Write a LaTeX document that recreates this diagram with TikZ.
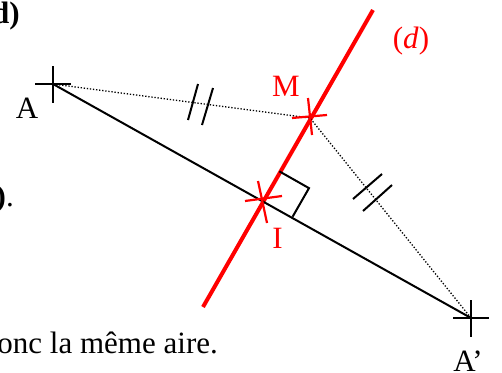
\documentclass[tikz,border=0pt]{standalone}
\usepackage{fontspec}
\setmainfont{Liberation Serif}
\usetikzlibrary{calc}
\begin{document}
\begin{tikzpicture}[x=1pt,y=-1pt,
  lbl/.style={font=\fontsize{31}{34}\selectfont,inner sep=0pt,anchor=base},
  redlbl/.style={lbl,text=red},
  seg/.style={line width=2pt,black},
  dotline/.style={line width=1.3pt,dash pattern=on 1.3pt off 1.8pt},
  bcross/.style={line width=2.2pt,black},
  rcross/.style={line width=2.2pt,red},
  redline/.style={line width=4pt,red},
  tick/.style={line width=2pt,black}]
\useasboundingbox (0,0) rectangle (502,372);
% points
\coordinate (A) at (53,84);
\coordinate (A2) at (471,318);
\coordinate (I) at (263,200);
\coordinate (M) at (310,118);
\coordinate (D1) at (203,307);
\coordinate (D2) at (373,10);
% line (d)
\draw[redline] (D1) -- (D2);
% segment AA'
\draw[seg] (A) -- (A2);
% dotted
\draw[dotline] (A) -- (M) -- (A2);
% right angle
\coordinate (R1) at ($(I)!33pt!(M)$);
\coordinate (R3) at ($(I)!34pt!(A2)$);
\coordinate (R2) at ($(R1)+(R3)-(I)$);
\draw[seg] (R1) -- (R2) -- (R3);
% ticks
\draw[tick] (198,84) -- (188,120);
\draw[tick] (213,88) -- (202,125);
\draw[tick] (382,174) -- (353,199);
\draw[tick] (392,185) -- (363,211);
% black crosses
\draw[bcross] ([shift={(-18,0)}]A) -- ([shift={(18,0)}]A);
\draw[bcross] ([shift={(0,-18)}]A) -- ([shift={(0,19)}]A);
\draw[bcross] ([shift={(-18,0)}]A2) -- ([shift={(18,0)}]A2);
\draw[bcross] ([shift={(0,-18)}]A2) -- ([shift={(0,19)}]A2);
% red crosses
\draw[rcross] ([shift={(-18,1)}]I) -- ([shift={(19,-4)}]I);
\draw[rcross] ([shift={(-5,-19)}]I) -- ([shift={(4,23)}]I);
\draw[rcross] ([shift={(-18,0)}]M) -- ([shift={(17,-3)}]M);
\draw[rcross] ([shift={(-2,-20)}]M) -- ([shift={(2,17)}]M);
% labels
\node[lbl] (lA) at (27,118) {A};
\node[lbl] (lA2) at (468,371) {A’};
\node[redlbl] (lM) at (286,96) {M};
\node[redlbl] (lI) at (277.5,248) {I};
\node[redlbl] (ld) at (411,48) {(\textit{d})};
% fragments of surrounding text
\node[lbl,anchor=base east] (t1) at (20,23) {\textbf{d)}};
\node[lbl,anchor=base east] (t2) at (14,206) {\textbf{)}.};
\node[lbl,anchor=base east] (t3) at (218,353) {onc la même aire.};
\end{tikzpicture}
\end{document}
